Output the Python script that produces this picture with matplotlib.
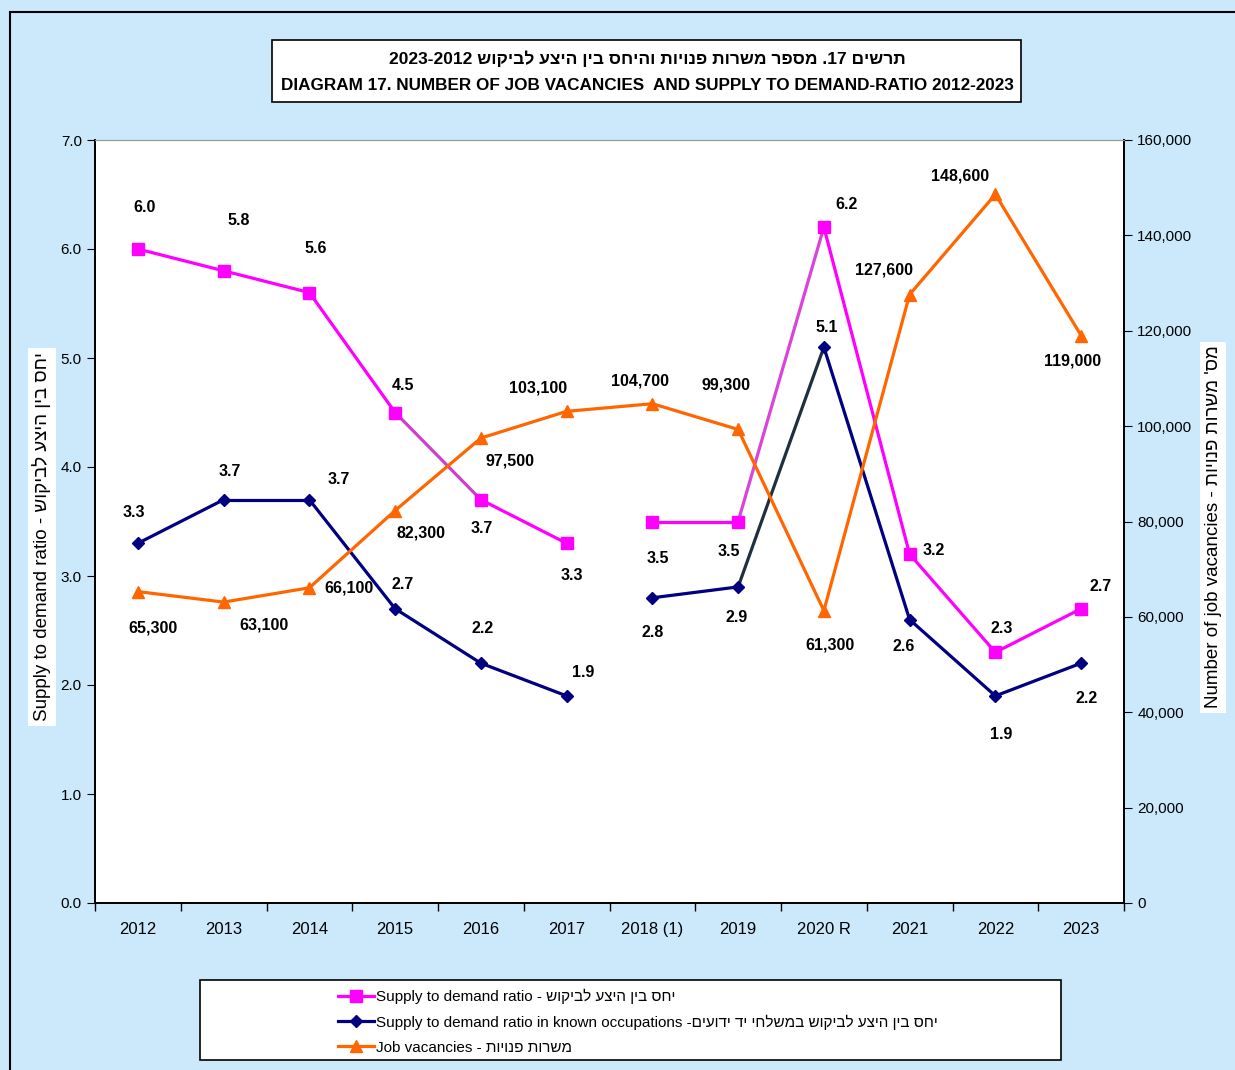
import re
import numpy as np
import matplotlib
matplotlib.use("Agg")
import matplotlib.pyplot as plt
from matplotlib.patches import Rectangle
from matplotlib.ticker import FuncFormatter, MultipleLocator

plt.rcParams['font.family'] = ['Liberation Sans', 'DejaVu Sans']


def vis(s):
    # matplotlib has no bidi: turn logical Hebrew into visual order
    out = s[::-1]
    return re.sub(r"[0-9A-Za-z]+", lambda m: m.group(0)[::-1], out)


years = ["2012", "2013", "2014", "2015", "2016", "2017", "2018 (1)", "2019",
         "2020 R", "2021", "2022", "2023"]
ratio_all = [6.0, 5.8, 5.6, 4.5, 3.7, 3.3, 3.5, 3.5, 6.2, 3.2, 2.3, 2.7]
ratio_known = [3.3, 3.7, 3.7, 2.7, 2.2, 1.9, 2.8, 2.9, 5.1, 2.6, 1.9, 2.2]
vacancies = [65300, 63100, 66100, 82300, 97500, 103100, 104700, 99300,
             61300, 127600, 148600, 119000]

MAG, NAVY, ORANGE = '#FF00FF', '#000080', '#FF6600'
# colour of each connecting segment (None = no line, series break after 2017)
seg_all = [MAG, MAG, MAG, '#CC40CC', MAG, None, MAG, '#D845D8', MAG, MAG, MAG]
seg_known = [NAVY, NAVY, NAVY, NAVY, NAVY, None, NAVY, '#1E3040', NAVY, NAVY, NAVY]

# label offsets in pixels (dx, dy) for each point
off_all = [(7, 42), (15, 50), (6, 44), (8, 27), (1, -29), (5, -32),
           (5, -37), (-9, -30), (23, 23), (24, 4), (6, 24), (19, 22)]
off_known = [(-4, 31), (6, 28), (29, 20), (8, 24), (2, 35), (17, 23),
             (0, -35), (-2, -31), (3, 20), (-6, -27), (6, -39), (5, -35)]
off_vac = [(15, -36), (40, -23), (40, 0), (26, -22), (29, -23), (-29, 23),
           (-12, 23), (-12, 44), (6, -34), (-26, 25), (-35, 18), (-9, -25)]

fig = plt.figure(figsize=(12.35, 10.70), dpi=100)
fig.patch.set_facecolor('#CCE9FC')
W, H = 1235, 1070

# outer frame
fig.add_artist(Rectangle((10 / W, -0.01), 1.0, 1 - 12 / H + 0.01, transform=fig.transFigure,
                         fill=False, edgecolor='black', lw=1.5))

ax = fig.add_axes([95 / W, 1 - 903 / H, (1124 - 95) / W, (903 - 140) / H])
ax.set_facecolor('white')
ax2 = ax.twinx()

x = np.arange(len(years))

for vals, segs in ((ratio_all, seg_all), (ratio_known, seg_known)):
    for i, c in enumerate(segs):
        if c is not None:
            ax.plot(x[i:i + 2], vals[i:i + 2], color=c, lw=2.3, solid_capstyle='round')
ax.plot(x, ratio_all, ls='none', color=MAG, marker='s', ms=8)
ax.plot(x, ratio_known, ls='none', color=NAVY, marker='D', ms=6.5)
ax2.plot(x, vacancies, color=ORANGE, marker='^', ms=8.5, lw=2.3)

lab_kw = dict(textcoords='offset pixels', ha='center', va='center',
              fontsize=11.5, fontweight='bold', color='black')
for i in range(len(years)):
    ax.annotate(f"{ratio_all[i]:.1f}", (x[i], ratio_all[i]), xytext=off_all[i], **lab_kw)
    ax.annotate(f"{ratio_known[i]:.1f}", (x[i], ratio_known[i]), xytext=off_known[i], **lab_kw)
    ax2.annotate(f"{vacancies[i]:,}", (x[i], vacancies[i]), xytext=off_vac[i], **lab_kw)

ax.set_xlim(-0.5, 11.5)
ax.set_ylim(0, 7)
ax2.set_ylim(0, 160000)
ax.yaxis.set_major_locator(MultipleLocator(1))
ax.yaxis.set_major_formatter(FuncFormatter(lambda v, p: f"{v:.1f}"))
ax2.yaxis.set_major_locator(MultipleLocator(20000))
ax2.yaxis.set_major_formatter(FuncFormatter(lambda v, p: f"{int(v):,}"))

ax.set_xticks(x)
ax.set_xticklabels(years, fontsize=12)
ax.set_xticks(np.arange(-0.5, 12, 1), minor=True)
ax.tick_params(axis='x', which='major', length=0, pad=14)
ax.tick_params(axis='x', which='minor', length=6, direction='out', width=1)
ax.tick_params(axis='y', length=6, direction='out', labelsize=11)
ax2.tick_params(axis='y', length=6, direction='out', labelsize=11)

for a in (ax, ax2):
    a.spines['top'].set_color('#999999')
    a.spines['top'].set_linewidth(0.8)
    for s in ('left', 'right', 'bottom'):
        a.spines[s].set_linewidth(1.3)

# axis titles
fig.text(42 / W, 1 - 537 / H, "Supply to demand ratio - " + vis("יחס בין היצע לביקוש"),
         rotation=90, ha='center', va='center', fontsize=13.5,
         bbox=dict(facecolor='white', edgecolor='none', pad=3))
fig.text(1213 / W, 1 - 527 / H, "Number of job vacancies - " + vis("מס' משרות פנויות"),
         rotation=90, ha='center', va='center', fontsize=13.5,
         bbox=dict(facecolor='white', edgecolor='none', pad=3))

# title box
fig.add_artist(Rectangle((272 / W, 1 - 102 / H), (1021 - 272) / W, 62 / H,
                         transform=fig.transFigure, facecolor='white', edgecolor='black', lw=1.2))
fig.text(647 / W, 1 - 59 / H, vis("תרשים 17. מספר משרות פנויות והיחס בין היצע לביקוש 2012-2023"),
         ha='center', va='center', fontsize=12.5, fontweight='bold')
fig.text(647 / W, 1 - 86 / H, "DIAGRAM 17. NUMBER OF JOB VACANCIES  AND SUPPLY TO DEMAND-RATIO 2012-2023",
         ha='center', va='center', fontsize=12.3, fontweight='bold')

# legend box
fig.add_artist(Rectangle((200 / W, 1 - 1060 / H), (1061 - 200) / W, 80 / H,
                         transform=fig.transFigure, facecolor='white', edgecolor='black', lw=1.2))
handles = [
    plt.Line2D([], [], color=MAG, marker='s', ms=8, lw=2.3),
    plt.Line2D([], [], color=NAVY, marker='D', ms=6.5, lw=2.3),
    plt.Line2D([], [], color=ORANGE, marker='^', ms=8.5, lw=2.3),
]
labels = [
    "Supply to demand ratio - " + vis("יחס בין היצע לביקוש"),
    "Supply to demand ratio in known occupations -" + vis("יחס בין היצע לביקוש במשלחי יד ידועים"),
    "Job vacancies - " + vis("משרות פנויות"),
]
fig.legend(handles, labels, loc='upper left', bbox_to_anchor=(330 / W, 1 - 981 / H),
           frameon=False, fontsize=11, handlelength=2.4, handletextpad=0.1,
           labelspacing=0.7, borderpad=0)

fig.savefig("out.png", dpi=100, facecolor=fig.get_facecolor())
